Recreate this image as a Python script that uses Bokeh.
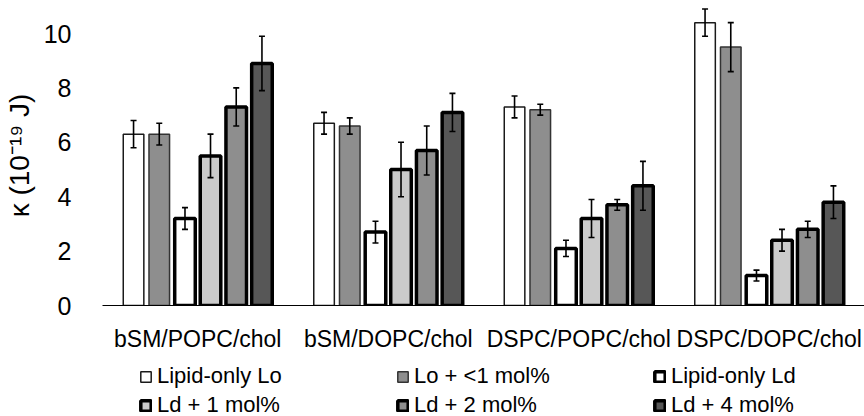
from bokeh.plotting import figure
from bokeh.layouts import column
from bokeh.models import (ColumnDataSource, FactorRange, Whisker, Legend, LegendItem,
                          TeeHead)
from bokeh.transform import dodge
from bokeh.embed import file_html
from bokeh.resources import INLINE

groups = ["bSM/POPC/chol", "bSM/DOPC/chol", "DSPC/POPC/chol", "DSPC/DOPC/chol"]

series_names = ["Lipid-only Lo", "Lo + <1 mol%", "Lipid-only Ld",
                "Ld + 1 mol%", "Ld + 2 mol%", "Ld + 4 mol%"]

lipid_only_lo = [6.3, 6.7, 7.3, 10.4]
lipid_only_lo_err = [0.5, 0.4, 0.4, 0.5]
lo_lt1 = [6.3, 6.6, 7.2, 9.5]
lo_lt1_err = [0.4, 0.3, 0.2, 0.9]
lipid_only_ld = [3.2, 2.7, 2.1, 1.1]
lipid_only_ld_err = [0.4, 0.4, 0.3, 0.2]
ld_1 = [5.5, 5.0, 3.2, 2.4]
ld_1_err = [0.8, 1.0, 0.7, 0.4]
ld_2 = [7.3, 5.7, 3.7, 2.8]
ld_2_err = [0.7, 0.9, 0.2, 0.3]
ld_4 = [8.9, 7.1, 4.4, 3.8]
ld_4_err = [1.0, 0.7, 0.9, 0.6]

y_ticks = [0, 2, 4, 6, 8, 10]

values = [lipid_only_lo, lo_lt1, lipid_only_ld, ld_1, ld_2, ld_4]
errors = [lipid_only_lo_err, lo_lt1_err, lipid_only_ld_err, ld_1_err, ld_2_err, ld_4_err]

fills = ["#ffffff", "#8e8e8e", "#ffffff", "#cbcbcb", "#8e8e8e", "#575757"]
line_widths = [1.5, 1.5, 3.5, 3.5, 3.5, 3.5]
line_colors = ["#1a1a1a", "#333333", "#000000", "#000000", "#000000", "#000000"]
offsets = [-0.337, -0.202, -0.067, 0.067, 0.202, 0.337]
bar_w = 0.108

FONT = "Liberation Sans"

p = figure(x_range=FactorRange(*groups, range_padding=0), y_range=(0, 11.03),
           width=864, height=360, output_backend="svg", toolbar_location=None,
           min_border_left=98, min_border_right=0, min_border_top=5,
           min_border_bottom=55)
p.outline_line_color = None
p.xgrid.grid_line_color = None
p.ygrid.grid_line_color = None

for i in range(6):
    src = ColumnDataSource(dict(
        x=groups, top=values[i],
        upper=[v + e for v, e in zip(values[i], errors[i])],
        lower=[v - e for v, e in zip(values[i], errors[i])]))
    p.vbar(x=dodge("x", offsets[i], range=p.x_range), top="top", width=bar_w,
           source=src, fill_color=fills[i], line_color=line_colors[i],
           line_width=line_widths[i])
    w = Whisker(base=dodge("x", offsets[i], range=p.x_range), upper="upper",
                lower="lower", source=src, line_color="black", line_width=1.6,
                level="overlay",
                upper_head=TeeHead(size=6, line_width=1.6, line_color="black"),
                lower_head=TeeHead(size=6, line_width=1.6, line_color="black"))
    p.add_layout(w)

# axes
p.yaxis.ticker = y_ticks
p.yaxis.axis_line_color = None
p.yaxis.major_tick_line_color = None
p.yaxis.minor_tick_line_color = None
p.yaxis.major_label_text_font = FONT
p.yaxis.major_label_text_font_size = "25px"
p.yaxis.major_label_text_color = "black"
p.yaxis.major_label_standoff = 25
p.yaxis.axis_label = "κ (10⁻¹⁹ J)"
p.yaxis.axis_label_text_font = FONT
p.yaxis.axis_label_text_font_size = "28px"
p.yaxis.axis_label_text_font_style = "normal"
p.yaxis.axis_label_text_color = "black"
p.yaxis.axis_label_standoff = 6

p.xaxis.axis_line_color = "#000000"
p.xaxis.axis_line_width = 1.2
p.xaxis.major_tick_line_color = None
p.xaxis.minor_tick_line_color = None
p.xaxis.major_label_text_font = FONT
p.xaxis.major_label_text_font_size = "23px"
p.xaxis.major_label_text_color = "black"
p.xaxis.major_label_standoff = 14

# legend figure below the chart: three columns, two rows
lg = figure(width=864, height=56, x_range=(0, 1), y_range=(0, 1),
            output_backend="svg", toolbar_location=None,
            x_axis_type=None, y_axis_type=None,
            min_border=0, min_border_left=0, min_border_right=0,
            min_border_top=0, min_border_bottom=0)
lg.outline_line_color = None
lg.xgrid.grid_line_color = None
lg.ygrid.grid_line_color = None
dummy = []
for i in range(6):
    # legend-only renderers (not drawn themselves)
    dummy.append(lg.vbar(x=[0.5], bottom=[5], top=[6], width=0.1, fill_color=fills[i],
                         line_color=line_colors[i], line_width=line_widths[i],
                         visible=False))

items = [LegendItem(label=series_names[i], renderers=[dummy[i]]) for i in range(6)]
leg = Legend(items=items, location=(37, -2), orientation="horizontal", ncols=3,
             glyph_width=13, glyph_height=13, label_standoff=5, spacing=3,
             label_width=236, label_height=20, padding=0, margin=0,
             border_line_color=None, background_fill_alpha=0,
             label_text_font=FONT, label_text_font_size="22px",
             label_text_color="black")
lg.add_layout(leg, "center")

layout = column(p, lg, spacing=0)
open("out.html", "w").write(file_html(layout, INLINE))
